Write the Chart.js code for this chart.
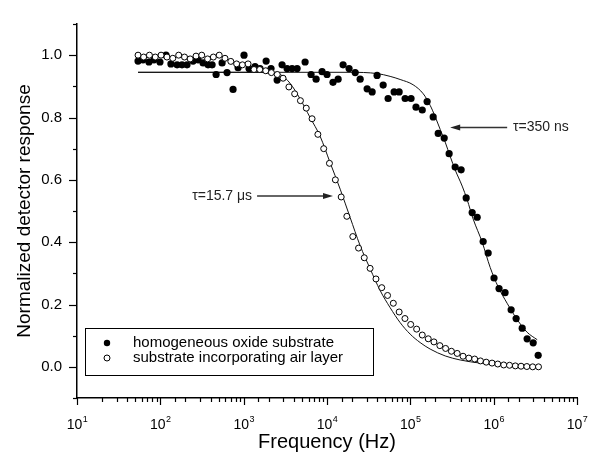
<!DOCTYPE html>
<html>
<head>
<meta charset="utf-8">
<script src="https://cdn.jsdelivr.net/npm/chart.js@4.4.1/dist/chart.umd.min.js"></script>
<style>
    html, body { margin: 0; padding: 0; background: #fff; }
    #wrap { width: 593px; height: 465px; position: relative; }
</style>
</head>
<body>
<div id="wrap"><canvas id="responseChart"></canvas></div>
<script>
// ===========================
// Data
// ===========================

// substrate incorporating air layer (open circles)
const airFreq = [54, 63, 74, 87, 102, 120, 141, 166, 195, 228, 268, 314, 369, 433, 509, 597, 701, 823, 966, 1130,
    1330, 1560, 1840, 2150, 2530, 2970, 3490, 4090, 4800, 5640, 6620, 7770, 9130, 10700, 12600, 14800, 17300, 20400,
    23900, 28000, 32900, 38700, 45400, 53300, 62500, 73400, 86200, 101000, 119000, 139000, 164000, 192000, 226000,
    265000, 311000, 365000, 429000, 503000, 591000, 694000, 814000, 956000, 1120000, 1320000, 1550000, 1820000,
    2130000, 2500000, 2940000, 3450000];
const airResponse = [1.00, 0.994, 1.00, 0.994, 1.00, 0.994, 0.99, 1.00, 0.994, 0.988, 0.997, 1.00, 0.988, 0.994,
    1.00, 0.99, 0.98, 0.972, 0.969, 0.972, 0.954, 0.954, 0.95, 0.944, 0.938, 0.926, 0.898, 0.876, 0.854, 0.83,
    0.796, 0.746, 0.70, 0.653, 0.60, 0.545, 0.483, 0.418, 0.381, 0.35, 0.316, 0.282, 0.254, 0.229, 0.204, 0.176,
    0.155, 0.136, 0.121, 0.102, 0.09, 0.08, 0.068, 0.059, 0.05, 0.043, 0.034, 0.028, 0.025, 0.019, 0.015, 0.012,
    0.009, 0.006, 0.005, 0.003, 0.002, 0.001, 0.0, 0.0];

// homogeneous oxide substrate (filled circles)
const oxideFreq = [54, 62, 73, 84, 99, 117, 134, 159, 182, 209, 247, 284, 326, 374, 418, 467, 551, 632, 746, 857,
    1010, 1160, 1370, 1570, 1860, 2130, 2520, 2890, 3320, 3810, 4380, 5460, 6440, 7400, 8730, 10000, 11800, 13600,
    15600, 18400, 21800, 25000, 30300, 34800, 39900, 47200, 54100, 63900, 73400, 86600, 102000, 117000, 139000,
    159000, 188000, 216000, 255000, 292000, 345000, 407000, 468000, 552000, 634000, 748000, 859000, 1010000,
    1160000, 1370000, 1620000, 1860000, 2200000, 2520000, 2980000, 3420000];
const oxideResponse = [0.981, 0.985, 0.978, 0.985, 0.978, 1.0, 0.972, 0.969, 0.969, 0.969, 0.981, 0.985, 0.975,
    0.969, 0.969, 0.938, 0.975, 0.944, 0.89, 0.96, 1.0, 0.957, 0.963, 0.957, 0.981, 0.957, 0.92, 0.969, 0.957,
    0.957, 0.957, 0.978, 0.938, 0.923, 0.947, 0.938, 0.913, 0.923, 0.969, 0.957, 0.944, 0.923, 0.892, 0.882,
    0.935, 0.904, 0.861, 0.882, 0.882, 0.861, 0.861, 0.833, 0.824, 0.851, 0.802, 0.749, 0.734, 0.684, 0.641,
    0.632, 0.542, 0.495, 0.48, 0.402, 0.365, 0.285, 0.251, 0.238, 0.183, 0.155, 0.124, 0.09, 0.077, 0.037];

// fitted curves
const fitAirFreq = [54, 1190, 2080, 2740, 3600, 4750, 6270, 8260, 10900, 14400, 18900, 24900, 32900, 43400, 57200,
    75400, 99500, 131000, 173000, 262000, 396000, 689000, 1200000, 2080000, 3420000];
const fitAirResponse = [0.945, 0.945, 0.943, 0.938, 0.91, 0.86, 0.80, 0.74, 0.655, 0.57, 0.48, 0.39, 0.315, 0.245,
    0.19, 0.142, 0.105, 0.078, 0.057, 0.035, 0.022, 0.012, 0.007, 0.003, 0.001];
const fitOxideFreq = [54, 18900, 39900, 57200, 75400, 108000, 143000, 173000, 199000, 228000, 262000, 301000,
    345000, 419000, 481000, 568000, 728000, 908000, 1130000, 1450000, 1910000, 2520000, 3330000];
const fitOxideResponse = [0.945, 0.945, 0.941, 0.932, 0.922, 0.905, 0.876, 0.839, 0.802, 0.762, 0.721, 0.675,
    0.632, 0.58, 0.536, 0.474, 0.40, 0.319, 0.257, 0.204, 0.152, 0.111, 0.087];

// axes
const xTickExponents = [1, 2, 3, 4, 5, 6, 7];
const yTickLabels = ['0.0', '0.2', '0.4', '0.6', '0.8', '1.0'];
const seriesNames = ['homogeneous oxide substrate', 'substrate incorporating air layer'];

// annotations: [text, text anchor freq, line start freq, arrow tip freq, response]
const tauAir = ['\u03c4=15.7 \u03bcs', 1262, 1449, 11800, 0.548];
const tauOxide = ['\u03c4=350 ns', 1710000, 1452000, 300600, 0.768];

const FONT = "'Liberation Sans', Arial, sans-serif";

function toPoints(xs, ys) {
    return xs.map((x, i) => ({x: x, y: ys[i]}));
}

// ===========================
// Extra drawing: ticks, labels, legend, arrows
// ===========================

const decorations = {
    id: 'decorations',
    afterDraw(chart) {
        const {ctx, chartArea, scales: {x, y}} = chart;
        ctx.save();
        ctx.strokeStyle = '#000';
        ctx.fillStyle = '#000';
        ctx.lineWidth = 1.2;

        // x tick marks
        x.ticks.forEach(t => {
            const lg = Math.log10(t.value);
            const major = Math.abs(lg - Math.round(lg)) < 1e-6;
            const px = Math.round(x.getPixelForValue(t.value)) + 0.5;
            ctx.beginPath();
            ctx.moveTo(px, chartArea.bottom);
            ctx.lineTo(px, chartArea.bottom + (major ? 7 : 4));
            ctx.stroke();
        });

        // y tick marks
        y.ticks.forEach(t => {
            const major = Math.round(t.value * 10) % 2 === 0;
            const py = Math.round(y.getPixelForValue(t.value)) + 0.5;
            ctx.beginPath();
            ctx.moveTo(chartArea.left, py);
            ctx.lineTo(chartArea.left - (major ? 8 : 4), py);
            ctx.stroke();
        });

        // x tick labels 10^n
        ctx.textBaseline = 'alphabetic';
        xTickExponents.forEach(e => {
            const px = x.getPixelForValue(Math.pow(10, e));
            ctx.font = '14px ' + FONT;
            const wBase = ctx.measureText('10').width;
            ctx.font = '9px ' + FONT;
            const wExp = ctx.measureText(String(e)).width;
            const start = px - (wBase + wExp) / 2;
            ctx.textAlign = 'left';
            ctx.font = '14px ' + FONT;
            ctx.fillText('10', start, chartArea.bottom + 31);
            ctx.font = '9px ' + FONT;
            ctx.fillText(String(e), start + wBase + 0.5, chartArea.bottom + 24);
        });

        // legend
        const lx = chartArea.left + 8, ly = chartArea.bottom - 70;
        ctx.fillStyle = '#fff';
        ctx.fillRect(lx, ly, 288, 47);
        ctx.lineWidth = 1;
        ctx.strokeRect(lx + 0.5, ly + 0.5, 288, 47);
        ctx.font = '15px ' + FONT;
        ctx.textBaseline = 'middle';
        ctx.textAlign = 'left';
        const rows = [ly + 15, ly + 30];
        ctx.fillStyle = '#000';
        ctx.beginPath();
        ctx.arc(lx + 22, rows[0], 3.2, 0, Math.PI * 2);
        ctx.fill();
        ctx.beginPath();
        ctx.arc(lx + 22, rows[1], 3, 0, Math.PI * 2);
        ctx.stroke();
        ctx.fillText(seriesNames[0], lx + 48, rows[0]);
        ctx.fillText(seriesNames[1], lx + 48, rows[1]);

        // tau annotations with arrows
        ctx.font = '14px ' + FONT;
        ctx.strokeStyle = '#333';
        ctx.fillStyle = '#222';
        ctx.lineWidth = 1.5;
        [tauAir, tauOxide].forEach(([text, textF, lineF, tipF, val]) => {
            const ty = y.getPixelForValue(val);
            const tx = x.getPixelForValue(textF);
            const sx = x.getPixelForValue(lineF);
            const ex = x.getPixelForValue(tipF);
            const dir = Math.sign(ex - sx);
            ctx.textAlign = dir > 0 ? 'right' : 'left';
            ctx.fillText(text, tx, ty);
            ctx.beginPath();
            ctx.moveTo(sx, ty);
            ctx.lineTo(ex - dir * 8, ty);
            ctx.stroke();
            ctx.beginPath();
            ctx.moveTo(ex, ty);
            ctx.lineTo(ex - dir * 10, ty - 3);
            ctx.lineTo(ex - dir * 10, ty + 3);
            ctx.closePath();
            ctx.fill();
        });
        ctx.restore();
    }
};

// ===========================
// Chart
// ===========================

const ctx = document.getElementById('responseChart');

new Chart(ctx, {
    type: 'scatter',
    data: {
        datasets: [
            {
                label: seriesNames[1],
                data: toPoints(airFreq, airResponse),
                pointRadius: 3,
                pointBorderWidth: 1,
                pointBorderColor: '#000',
                pointBackgroundColor: '#fff'
            },
            {
                label: seriesNames[0],
                data: toPoints(oxideFreq, oxideResponse),
                pointRadius: 3.6,
                pointBorderWidth: 0,
                pointBackgroundColor: '#000'
            },
            {
                label: 'fit 15.7 us',
                data: toPoints(fitAirFreq, fitAirResponse),
                showLine: true,
                pointRadius: 0,
                borderColor: '#111',
                borderWidth: 1,
                cubicInterpolationMode: 'monotone'
            },
            {
                label: 'fit 350 ns',
                data: toPoints(fitOxideFreq, fitOxideResponse),
                showLine: true,
                pointRadius: 0,
                borderColor: '#111',
                borderWidth: 1,
                cubicInterpolationMode: 'monotone'
            }
        ]
    },
    options: {
        responsive: true,
        maintainAspectRatio: false,
        animation: false,
        layout: {
            padding: {top: 10, right: 16, left: 0, bottom: 0}
        },
        plugins: {
            legend: {display: false},
            tooltip: {enabled: false}
        },
        scales: {
            x: {
                type: 'logarithmic',
                min: 10,
                max: 1e7,
                grid: {display: false, drawTicks: false},
                border: {display: true, color: '#000', width: 1.5},
                ticks: {display: false},
                title: {
                    display: true,
                    text: 'Frequency (Hz)',
                    color: '#000',
                    font: {family: FONT, size: 20},
                    padding: {top: 0, bottom: 11}
                },
                afterFit: scale => { scale.height = 67; }
            },
            y: {
                min: -0.1,
                max: 1.1,
                grid: {display: false, drawTicks: false},
                border: {display: true, color: '#000', width: 1.5},
                ticks: {
                    stepSize: 0.1,
                    autoSkip: false,
                    padding: 15,
                    color: '#000',
                    font: {family: FONT, size: 15},
                    callback: value => {
                        const label = Number(value).toFixed(1);
                        return yTickLabels.includes(label) ? label : '';
                    }
                },
                title: {
                    display: true,
                    text: 'Normalized detector response',
                    color: '#000',
                    font: {family: FONT, size: 19},
                    padding: {top: 13, bottom: 0}
                },
                afterFit: scale => { scale.width = 77; }
            }
        }
    },
    plugins: [decorations]
});
</script>
</body>
</html>
